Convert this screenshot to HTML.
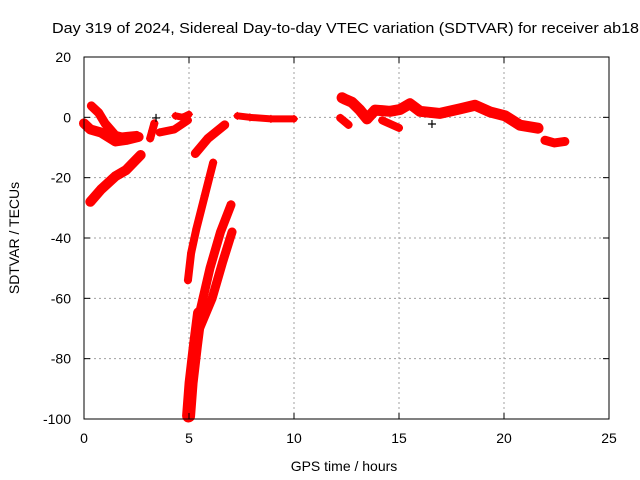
<!DOCTYPE html>
<html><head><meta charset="utf-8"><style>
body{margin:0;background:#fff;}
svg{display:block;font-family:"Liberation Sans",sans-serif;}
</style></head><body>
<svg id="chart" width="640" height="480" viewBox="0 0 640 480">
<rect width="640" height="480" fill="#fff"/>
<text x="52" y="33" font-size="15" textLength="587" lengthAdjust="spacingAndGlyphs">Day 319 of 2024, Sidereal Day-to-day VTEC variation (SDTVAR) for receiver ab18</text>
<g id="grid"></g>
<g id="marks"></g>
<rect x="84" y="57" width="525" height="362" fill="none" stroke="#000" stroke-width="1"/>
<g id="axes"></g>
<text x="344" y="471" font-size="14" text-anchor="middle">GPS time / hours</text>
<text x="0" y="0" font-size="14" text-anchor="middle" transform="translate(19,238) rotate(-90)">SDTVAR / TECUs</text>
</svg>
<script>
const xTicks=[0,5,10,15,20,25];
const yTicks=[20,0,-20,-40,-60,-80,-100];
const track1=[[0.35,3.8],[0.7,1.5],[1.0,-2],[1.5,-6],[1.8,-6.5],[2.5,-6]];
const track2=[[0,-2],[0.3,-4],[0.8,-5],[1.5,-8],[2.0,-7.5],[2.6,-6.5]];
const track3=[[0.3,-28],[0.8,-24],[1.5,-19.5],[2.0,-17.5],[2.7,-12.5]];
const track4=[[3.15,-7],[3.25,-4.5],[3.35,-2]];
const track5=[[3.6,-5],[4.3,-4],[4.95,-1]];
const track6=[[4.35,0.5],[4.7,0],[5.0,1]];
const track7=[[5.3,-12],[5.9,-7],[6.7,-2.5]];
const track8=[[6.15,-15],[5.75,-26],[5.35,-37],[5.1,-45],[4.95,-54]];
const track9=[[4.98,-99],[5.1,-88],[5.3,-76],[5.5,-65]];
const track10=[[5.5,-65],[6.0,-50],[6.5,-38],[7.0,-29]];
const track11=[[5.5,-70],[6.1,-60],[6.6,-48],[7.05,-38]];
const track12=[[7.3,0.5],[7.9,0],[8.9,-0.5],[10.0,-0.5]];
const track13=[[12.29,6.5],[12.43,6],[12.76,5],[13.14,2.4],[13.48,-0.5],[13.86,2.4],[14.57,2.0],[15.05,2.6],[15.52,4.5],[16.0,2.0],[16.95,1.3],[17.9,2.8],[18.62,4.0],[19.33,1.8],[20.05,0.5],[20.76,-2.6],[21.62,-3.6]];
const track14=[[21.95,-7.6],[22.4,-8.5],[22.9,-8.0]];
const track15=[[12.2,-0.2],[12.6,-2.5]];
const track16=[[14.2,-1],[15.0,-3.5]];
const blackPts=[[3.43,-0.2],[16.57,-2.2]];
const tracks=[track1,track2,track3,track4,track5,track6,track7,track8,track9,track10,track11,track12,track13,track14,track15,track16];
const widths=[9,10,10,8,8,7,9,8,13,9,9,7,11,9,8,8];
const X=h=>84+h*21, Y=v=>57+(20-v)*362/120;
const NS='http://www.w3.org/2000/svg';
const grid=document.getElementById('grid'),axes=document.getElementById('axes'),marks=document.getElementById('marks');
function mk(t,a,p){const e=document.createElementNS(NS,t);for(const k in a)e.setAttribute(k,a[k]);p.appendChild(e);return e;}
xTicks.forEach(t=>{
 if(t>0&&t<25){const g=mk('line',{x1:X(t),x2:X(t),y1:57,y2:419,stroke:'#a0a0a0','stroke-dasharray':'2,3'},grid);
 
 }
 const l=mk('text',{x:X(t),y:443,'font-size':14,'text-anchor':'middle'},axes);l.textContent=t;
 
 
 mk('line',{x1:X(t),x2:X(t),y1:419,y2:413,stroke:'#000'},axes);
 mk('line',{x1:X(t),x2:X(t),y1:57,y2:63,stroke:'#000'},axes);
});
yTicks.forEach(t=>{
 if(t<20&&t>-100){const g=mk('line',{x1:84,x2:609,y1:Y(t),y2:Y(t),stroke:'#a0a0a0','stroke-dasharray':'2,3'},grid);
 
 }
 const l=mk('text',{x:71,y:Y(t)+5,'font-size':14,'text-anchor':'end'},axes);l.textContent=t;
 
 
 mk('line',{x1:84,x2:90,y1:Y(t),y2:Y(t),stroke:'#000'},axes);
 mk('line',{x1:609,x2:603,y1:Y(t),y2:Y(t),stroke:'#000'},axes);
});
function plus(x,y,c,p){return mk('path',{d:`M${x-4} ${y}h8M${x} ${y-4}v8`,stroke:c,'stroke-width':1.2,fill:'none'},p);}
tracks.forEach((tr,i)=>{
 const pl=mk('polyline',{points:tr.map(d=>X(d[0])+','+Y(d[1])).join(' '),fill:'none',stroke:'#f00','stroke-width':widths[i],'stroke-linejoin':'round','stroke-linecap':'round'},marks);
 
 
 tr.forEach(d=>{const m=plus(X(d[0]),Y(d[1]),'#f00',marks);
  
  });
});
blackPts.forEach(d=>{const m=plus(X(d[0]),Y(d[1]),'#000',marks);
 
 });
</script>
</body></html>
